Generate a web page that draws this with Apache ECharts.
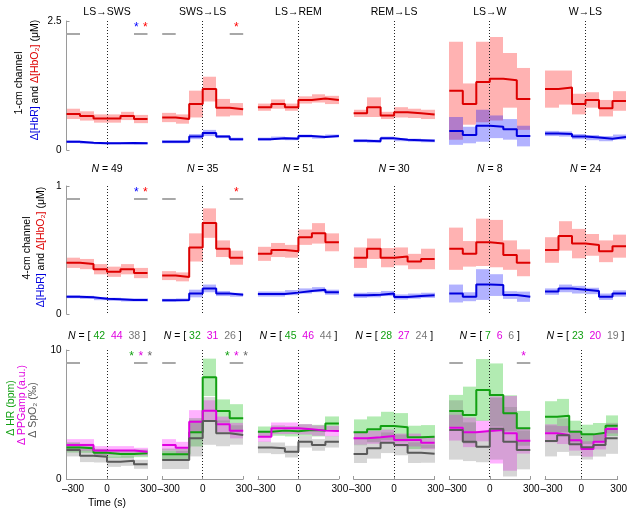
<!DOCTYPE html>
<html><head><meta charset="utf-8">
<script src="https://cdn.jsdelivr.net/npm/echarts@6/dist/echarts.min.js"></script>
<style>html,body{margin:0;padding:0;background:#fff}#c{width:630px;height:513px}</style>
</head><body><div id="c"></div>
<script>
// ---------- data ----------
const transitions = ['LS\u2192SWS','SWS\u2192LS','LS\u2192REM','REM\u2192LS','LS\u2192W','W\u2192LS'];
const binEdges = [-300,-200,-100,0,100,200,300];
const nHemo = [49,35,51,30,8,24];
const nHR = [42,32,45,28,7,23];
const nPPG = [44,31,46,27,6,20];
const nSpO2 = [38,26,44,24,6,19];

// 1-cm channel
const hbo1Mean = [
 [0.70,0.66,0.61,0.61,0.66,0.60],
 [0.63,0.60,0.89,1.18,0.82,0.79],
 [0.83,0.89,0.83,0.97,1.00,0.97],
 [0.71,0.83,0.67,0.73,0.71,0.69],
 [1.15,0.89,1.32,1.38,1.35,0.99],
 [1.18,1.21,0.89,0.97,0.81,0.95]];
const hbo1Sem = [
 [0.10,0.09,0.08,0.08,0.08,0.08],
 [0.09,0.09,0.26,0.24,0.17,0.12],
 [0.07,0.09,0.07,0.07,0.08,0.08],
 [0.07,0.19,0.07,0.10,0.09,0.09],
 [0.95,0.40,0.78,0.81,0.53,0.60],
 [0.36,0.33,0.20,0.15,0.16,0.19]];
const hbr1Mean = [
 [0.16,0.14,0.13,0.13,0.135,0.13],
 [0.16,0.16,0.26,0.33,0.26,0.21],
 [0.21,0.23,0.22,0.27,0.25,0.27],
 [0.18,0.17,0.23,0.20,0.19,0.18],
 [0.37,0.29,0.47,0.45,0.40,0.27],
 [0.32,0.31,0.26,0.24,0.22,0.25]];
const hbr1Sem = [
 [0.025,0.02,0.02,0.02,0.02,0.02],
 [0.03,0.03,0.05,0.06,0.03,0.03],
 [0.03,0.03,0.03,0.03,0.03,0.03],
 [0.03,0.03,0.03,0.03,0.03,0.03],
 [0.27,0.16,0.31,0.22,0.20,0.20],
 [0.05,0.05,0.05,0.05,0.05,0.05]];

// 4-cm channel
const hbo4Mean = [
 [0.40,0.39,0.35,0.33,0.35,0.32],
 [0.30,0.29,0.52,0.71,0.51,0.44],
 [0.47,0.50,0.49,0.60,0.63,0.56],
 [0.44,0.51,0.44,0.45,0.41,0.43],
 [0.51,0.47,0.56,0.55,0.46,0.40],
 [0.50,0.61,0.55,0.54,0.49,0.53]];
const hbo4Sem = [
 [0.04,0.04,0.04,0.04,0.04,0.04],
 [0.035,0.035,0.11,0.115,0.065,0.055],
 [0.055,0.055,0.05,0.06,0.08,0.07],
 [0.08,0.08,0.075,0.07,0.06,0.08],
 [0.165,0.10,0.185,0.185,0.115,0.105],
 [0.10,0.115,0.115,0.085,0.085,0.09]];
const hbr4Mean = [
 [0.135,0.13,0.12,0.115,0.11,0.11],
 [0.107,0.11,0.16,0.20,0.16,0.15],
 [0.156,0.156,0.167,0.18,0.19,0.17],
 [0.146,0.15,0.16,0.133,0.14,0.146],
 [0.16,0.135,0.23,0.226,0.148,0.135],
 [0.175,0.20,0.19,0.18,0.135,0.16]];
const hbr4Sem = [
 [0.012,0.012,0.012,0.012,0.012,0.012],
 [0.012,0.012,0.03,0.03,0.02,0.015],
 [0.02,0.02,0.02,0.02,0.02,0.02],
 [0.02,0.02,0.02,0.02,0.02,0.02],
 [0.07,0.035,0.12,0.085,0.03,0.04],
 [0.025,0.03,0.03,0.025,0.025,0.025]];

// vitals
const hrMean = [
 [2.45,2.38,2.04,1.94,1.94,1.99],
 [1.91,1.91,3.62,7.88,5.27,4.70],
 [3.67,3.75,3.70,3.80,3.75,4.30],
 [3.62,3.85,4.11,4.01,3.23,3.28],
 [5.27,4.96,6.90,6.51,5.09,3.93],
 [4.83,4.91,3.67,3.46,3.59,4.13]];
const hrSem = [
 [0.40,0.35,0.30,0.30,0.30,0.30],
 [0.45,0.45,1.10,1.45,0.90,1.10],
 [0.40,0.40,0.40,0.45,0.45,0.55],
 [1.00,1.00,1.10,1.10,0.90,0.90],
 [1.25,2.20,2.40,2.45,1.40,1.35],
 [1.20,1.30,0.85,0.75,0.75,0.80]];
const ppgMean = [
 [2.64,2.64,2.20,2.20,2.20,2.12],
 [2.64,2.43,4.44,5.30,4.24,3.75],
 [3.28,3.93,3.93,3.85,3.75,3.72],
 [3.15,3.23,3.33,3.02,3.02,2.81],
 [3.98,3.62,3.72,3.80,3.54,2.97],
 [3.54,3.41,3.00,2.33,2.89,3.88]];
const ppgSem = [
 [0.45,0.45,0.35,0.35,0.35,0.30],
 [0.45,0.45,0.90,0.80,0.60,0.60],
 [0.40,0.45,0.45,0.40,0.40,0.40],
 [0.50,0.50,0.50,0.50,0.50,0.50],
 [1.00,1.15,0.80,2.60,2.90,1.00],
 [0.70,0.70,0.80,0.60,0.60,0.35]];
const spoMean = [
 [2.25,1.81,1.73,1.34,1.42,1.14],
 [1.47,1.47,3.15,4.50,3.54,3.41],
 [2.45,2.38,2.12,2.89,2.64,2.89],
 [1.94,2.38,2.81,2.64,2.04,1.96],
 [3.80,2.89,2.50,3.90,2.89,2.25],
 [2.95,3.40,2.70,2.46,2.64,3.15]];
const spoSem = [
 [0.50,0.50,0.45,0.40,0.40,0.35],
 [0.70,0.70,1.40,1.85,1.00,0.75],
 [0.45,0.45,0.45,0.45,0.45,0.45],
 [0.70,0.80,0.80,0.80,0.80,0.70],
 [2.30,1.50,1.20,2.40,2.70,1.50],
 [1.20,1.30,0.90,0.95,0.90,1.20]];

// significance markers (gray baseline/test bars and stars)
const sigHemo1 = [1,1,0,0,0,0];
const starsHemo1 = [['HbR','HbO2'],['HbO2'],[],[],[],[]];
const sigHemo4 = [1,1,0,0,0,0];
const starsHemo4 = [['HbR','HbO2'],['HbO2'],[],[],[],[]];
const sigVital = [1,1,0,0,1,0];
const starsVital = [['HR','PPG','SpO2'],['HR','PPG','SpO2'],[],[],['PPG'],[]];
const rowMax = [2.5, 1, 10];
const transitionTime = 0;

// ---------- styling ----------
const FONT = '"Liberation Sans", Arial, Helvetica, sans-serif';
const FS = 10.5;
const FT = 10;
const C = {
  HbR:  {line:'#0000dd', band:'rgba(0,0,255,0.30)', star:'#0000ff'},
  HbO2: {line:'#dd0000', band:'rgba(255,0,0,0.30)', star:'#ff0000'},
  HR:   {line:'#12a012', band:'rgba(0,190,0,0.30)', star:'#12a012'},
  PPG:  {line:'#e000e0', band:'rgba(255,0,255,0.30)', star:'#e000e0'},
  SpO2: {line:'#5a5a5a', band:'rgba(120,120,120,0.30)', star:'#666666'}
};
const GX0 = 66.5, GDX = 95.7, GW = 81;
const rowTop = [21, 186, 350], rowH = [129, 128, 129];
const axisGray = '#9a9a9a';

const rows = [
  {sig:sigHemo1, stars:starsHemo1, series:[
    {key:'HbO2', mean:hbo1Mean, sem:hbo1Sem},
    {key:'HbR', mean:hbr1Mean, sem:hbr1Sem}]},
  {sig:sigHemo4, stars:starsHemo4, series:[
    {key:'HbO2', mean:hbo4Mean, sem:hbo4Sem},
    {key:'HbR', mean:hbr4Mean, sem:hbr4Sem}]},
  {sig:sigVital, stars:starsVital, series:[
    {key:'HR', mean:hrMean, sem:hrSem},
    {key:'PPG', mean:ppgMean, sem:ppgSem},
    {key:'SpO2', mean:spoMean, sem:spoSem}]}
];

function stepData(mean){
  const d = mean.map((v,i)=>[binEdges[i], v]);
  d.push([binEdges[binEdges.length-1], mean[mean.length-1]]);
  return d;
}
function bandData(mean, sem){
  return mean.map((v,i)=>[binEdges[i], binEdges[i+1], v-sem[i], v+sem[i]]);
}
function bandRender(color){
  return function(params, api){
    const a = api.coord([api.value(0), api.value(3)]);
    const b = api.coord([api.value(1), api.value(2)]);
    const L = Math.round(a[0]), R = Math.round(b[0]);
    return {type:'rect', shape:{x:L, y:a[1], width:R-L, height:b[1]-a[1]}, style:{fill:color}};
  };
}
function dottedRender(params, api){
  const cs = params.coordSys;
  const p = api.coord([api.value(0), 0]);
  const x = Math.floor(p[0]) + 0.5;
  return {type:'line', shape:{x1:x, y1:cs.y, x2:x, y2:cs.y+cs.height},
    style:{stroke:'#222', lineWidth:1, lineDash:[1,2]}};
}

const tickRich = {
  neg:{fontSize:FT, fontFamily:FONT, fill:'#000', color:'#000', padding:[0,0,0,13]},
  pos:{fontSize:FT, fontFamily:FONT, fill:'#000', color:'#000', padding:[0,0,0,2]}
};

const grid=[], xAxis=[], yAxis=[], series=[];
for (let r=0;r<3;r++){
  const max = rowMax[r];
  for (let c=0;c<6;c++){
    const g = r*6+c;
    grid.push({left:GX0+c*GDX, top:rowTop[r], width:GW, height:rowH[r], containLabel:false});
    xAxis.push({type:'value', gridIndex:g, min:binEdges[0], max:binEdges[6], interval:300, position:'bottom',
      axisLine:{show:r===2, onZero:false, lineStyle:{color:axisGray, width:1}},
      axisTick:{show:r===2, inside:true, length:3, lineStyle:{color:axisGray}},
      axisLabel:{show:r===2, margin:5, color:'#000', fontSize:FT, fontFamily:FONT, rich:tickRich,
        formatter:v=> v<0 ? '{neg|\u2013'+(-v)+'}' : (v>0 ? '{pos|'+v+'}' : String(v))},
      splitLine:{show:false}});
    yAxis.push({type:'value', gridIndex:g, min:0, max:max, interval:max, position:'left',
      axisLine:{show:c===0, onZero:false, lineStyle:{color:axisGray, width:1}},
      axisTick:{show:c===0, inside:true, length:3, lineStyle:{color:axisGray}},
      axisLabel:{show:c===0, margin:5, color:'#000', fontSize:FT, fontFamily:FONT},
      splitLine:{show:false}});
    const row = rows[r];
    // dotted transition line
    series.push({type:'custom', xAxisIndex:g, yAxisIndex:g, z:3, silent:true, animation:false,
      renderItem:dottedRender, data:[[transitionTime, 0]], encode:{x:0, y:1}});
    // bands
    row.series.forEach(s=>{
      series.push({type:'custom', xAxisIndex:g, yAxisIndex:g, z:2, silent:true, animation:false,
        renderItem:bandRender(C[s.key].band), data:bandData(s.mean[c], s.sem[c]),
        encode:{x:[0,1], y:[2,3]}});
    });
    // lines
    row.series.forEach((s,k)=>{
      const ser = {type:'line', xAxisIndex:g, yAxisIndex:g, z:4, step:'end', symbol:'none', silent:true,
        animation:false, data:stepData(s.mean[c]), lineStyle:{color:C[s.key].line, width:2}};
      if (k===0 && row.sig[c]){
        const yv = 0.9*max;
        const gs = {color:'#a8a8a8', width:2, type:'solid'};
        ser.markLine = {silent:true, symbol:['none','none'], animation:false, label:{show:false},
          lineStyle:gs, emphasis:{disabled:true}, data:[
            [{coord:[binEdges[0], yv]}, {coord:[binEdges[1], yv]}],
            [{coord:[binEdges[5], yv]}, {coord:[binEdges[6], yv]}]]};
      }
      series.push(ser);
    });
    // stars
    const st = row.stars[c];
    if (st.length){
      const n = st.length;
      const data = st.map((key,k)=>[ (binEdges[5]+binEdges[6])/2 + (k-(n-1)/2)*67, 0.97*max, k ]);
      series.push({type:'custom', xAxisIndex:g, yAxisIndex:g, z:5, silent:true, animation:false,
        data:data, encode:{x:0, y:1},
        renderItem:function(params, api){
          const p = api.coord([api.value(0), api.value(1)]);
          const key = st[api.value(2)];
          return {type:'text', x:p[0], y:p[1]+3, style:{text:'*', fill:C[key].star,
            fontSize:12, fontFamily:FONT, align:'center', verticalAlign:'middle',
            textAlign:'center', textVerticalAlign:'middle'}};
        }});
    }
  }
}

// ---------- text (titles, labels) ----------
function T(x, y, text, extra){
  const style = Object.assign({text:text, fill:'#000', fontSize:FS, fontFamily:FONT,
    align:'center', verticalAlign:'middle', textAlign:'center', textVerticalAlign:'middle'}, extra||{});
  return {type:'text', x:x, y:y, silent:true, style:style};
}
function rs(fill, italic){ return {fill:fill, fontSize:FS, fontFamily:FONT, fontStyle: italic?'italic':'normal'}; }
const graphic = [];
for (let c=0;c<6;c++){
  const cx = GX0 + c*GDX + GW/2;
  graphic.push(T(cx, 12, transitions[c]));
  graphic.push(T(cx, 169, '{i|N} = ' + nHemo[c], {rich:{i:rs('#000',true)}}));
  graphic.push(T(cx, 336, '{i|N} = [ {g|'+nHR[c]+'}  {m|'+nPPG[c]+'}  {k|'+nSpO2[c]+'} ]',
    {rich:{i:rs('#000',true), g:rs(C.HR.star), m:rs(C.PPG.star), k:rs('#777777')}}));
}
const rot = Math.PI/2;
function R(x, y, text, extra){ const t = T(x, y, text, extra); t.rotation = rot; return t; }
const hemoRich = {b:rs('#0000dd'), r:rs('#dd0000')};
graphic.push(R(19, 83, '1-cm channel'));
graphic.push(R(35, 80, '{b|\u0394[HbR]} and {r|\u0394[HbO\u2082]} (\u03bcM)', {rich:hemoRich}));
graphic.push(R(27, 248, '4-cm channel'));
graphic.push(R(41, 247, '{b|\u0394[HbR]} and {r|\u0394[HbO\u2082]} (\u03bcM)', {rich:hemoRich}));
graphic.push(R(11.5, 408, '\u0394 HR (bpm)', {fill:C.HR.star}));
graphic.push(R(22, 405, '\u0394 PPGamp (a.u.)', {fill:C.PPG.star}));
graphic.push(R(33, 410, '\u0394 SpO\u2082 (\u2030)', {fill:'#555555'}));
graphic.push(T(GX0+GW/2, 503, 'Time (s)'));

const chart = echarts.init(document.getElementById('c'), null, {renderer:'canvas'});
chart.setOption({animation:false, backgroundColor:'#fff', grid, xAxis, yAxis, series, graphic});
</script></body></html>
